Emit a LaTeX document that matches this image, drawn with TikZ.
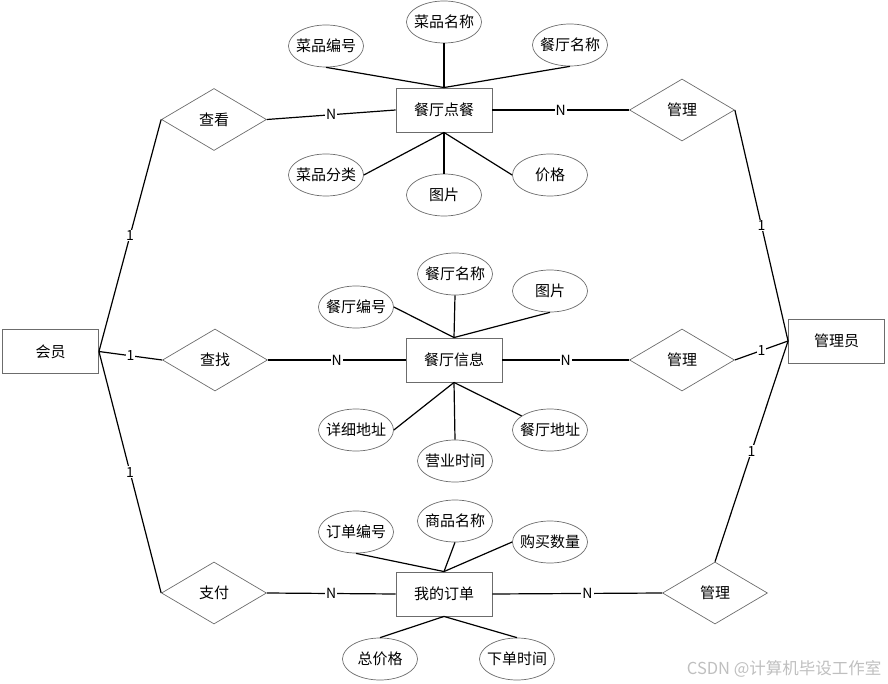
\documentclass[tikz,border=0pt]{standalone}
\usepackage{fontspec}
\setmainfont{Noto Sans CJK SC}
\usetikzlibrary{shapes.geometric}
\tikzset{
  entity/.style={draw=gray!85!black, line width=0.9pt, minimum width=96pt, minimum height=44pt, inner sep=0pt},
  relation/.style={diamond, draw=gray!85!black, line width=0.7pt, minimum width=105pt, minimum height=62pt, inner sep=0pt},
  attr/.style={ellipse, draw=gray!85!black, line width=0.7pt, minimum width=75pt, minimum height=42pt, inner xsep=-10pt, inner ysep=0pt},
  link/.style={line width=1.2pt},
  card/.style={fill=white, inner sep=1pt, font=\fontsize{14}{14}\selectfont}
}

\begin{document}
\begin{tikzpicture}[x=1pt, y=-1pt, font=\fontsize{15}{18}\selectfont]
    \useasboundingbox (0,0) rectangle (888,684);

    % First, locate the entities and relations and name them
        \node[entity] (member) at (50.5, 351.5) {会员};
        \node[entity] (admin) at (836.5, 341) {管理员};
        \node[entity] (dish) at (444, 110) {餐厅点餐};
        \node[entity] (shop) at (454, 360) {餐厅信息};
        \node[entity] (myorder) at (444, 594) {我的订单};

        \node[relation] (view) at (214, 119.5) {查看};
        \node[relation] (find) at (215, 360) {查找};
        \node[relation] (pay) at (214, 593) {支付};
        \node[relation] (manA) at (682, 110) {管理};
        \node[relation] (manB) at (682, 360) {管理};
        \node[relation] (manC) at (715, 593) {管理};

    % The attributes
        \node[attr] (dishNo) at (326, 46) {菜品编号};
        \node[attr] (dishName) at (444, 22) {菜品名称};
        \node[attr] (shopNameA) at (570, 45) {餐厅名称};
        \node[attr] (dishType) at (326, 175) {菜品分类};
        \node[attr] (dishPic) at (444, 195) {图片};
        \node[attr] (price) at (550, 175) {价格};

        \node[attr] (shopNo) at (356, 307) {餐厅编号};
        \node[attr] (shopNameB) at (455, 274) {餐厅名称};
        \node[attr] (shopPic) at (550, 291) {图片};
        \node[attr] (addrDetail) at (356, 430) {详细地址};
        \node[attr] (openTime) at (455, 461) {营业时间};
        \node[attr] (shopAddr) at (550, 430) {餐厅地址};

        \node[attr] (orderNo) at (356, 532) {订单编号};
        \node[attr] (goodsName) at (455, 521) {商品名称};
        \node[attr] (amount) at (550, 542) {购买数量};
        \node[attr] (total) at (380, 659) {总价格};
        \node[attr] (orderTime) at (517, 659) {下单时间};

        \node[anchor=east, text=gray!50, font=\fontsize{16.5}{18}\selectfont] (mark) at (885, 669) {CSDN @计算机毕设工作室};

    % Now draw the attribute lines:
        \draw [link] (dish.north) -- (dishNo.south);
        \draw [link] (dish.north) -- (dishName.south);
        \draw [link] (dish.north) -- (shopNameA.south);
        \draw [link] (dish.south) -- (dishType.east);
        \draw [link] (dish.south) -- (dishPic.north);
        \draw [link] (dish.south) -- (price.west);

        \draw [link] (shop.north) -- (shopNo.east);
        \draw [link] (shop.north) -- (shopNameB.south);
        \draw [link] (shop.north) -- (shopPic.south);
        \draw [link] (shop.south) -- (addrDetail.east);
        \draw [link] (shop.south) -- (openTime.north);
        \draw [link] (shop.south) -- (shopAddr);

        \draw [link] (myorder.north) -- (orderNo.south);
        \draw [link] (myorder.north) -- (goodsName.south);
        \draw [link] (myorder.north) -- (amount.west);
        \draw [link] (myorder.south) -- (total.north);
        \draw [link] (myorder.south) -- (orderTime.north);

    % And the relation lines with their cardinalities:
        \draw [link] (member.east) -- node[card] {1} (view.west);
        \draw [link] (member.east) -- node[card] {1} (find.west);
        \draw [link] (member.east) -- node[card] {1} (pay.west);
        \draw [link] (view.east) -- node[card] {N} (dish.west);
        \draw [link] (find.east) -- node[card] {N} (shop.west);
        \draw [link] (pay.east) -- node[card] {N} (myorder.west);
        \draw [link] (dish.east) -- node[card] {N} (manA.west);
        \draw [link] (shop.east) -- node[card] {N} (manB.west);
        \draw [link] (myorder.east) -- node[card, pos=0.56] {N} (manC.west);
        \draw [link] (manA.east) -- node[card] {1} (admin.west);
        \draw [link] (manB.east) -- node[card] {1} (admin.west);
        \draw [link] (manC.north) -- node[card] {1} (admin.west);
\end{tikzpicture}
\end{document}
